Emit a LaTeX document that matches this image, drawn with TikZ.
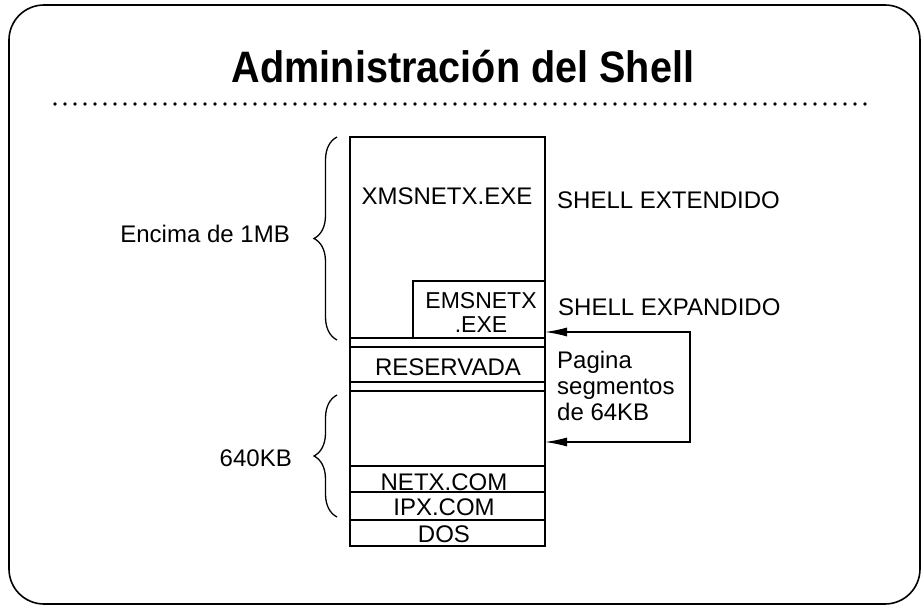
\documentclass[tikz,border=0pt]{standalone}
\usepackage{fontspec}
\setmainfont{Liberation Sans}
\newfontfamily\titlefont{Liberation Sans}[FakeStretch=0.9]
\usetikzlibrary{arrows.meta,decorations.pathreplacing}

\tikzset{
  lbl/.style={inner sep=0pt, font=\fontsize{24}{26}\selectfont},
  memline/.style={line width=1.3pt},
  brc/.style={line width=1.3pt, decorate, decoration={brace, amplitude=23pt, aspect=0.5}},
}

\begin{document}
\begin{tikzpicture}[x=1pt, y=-1pt, >={Latex[length=22pt, width=9pt]}]
	\useasboundingbox (0,0) rectangle (922,607);
	% frame and title
	\draw[line width=1.6pt, rounded corners=35pt] (9,5) rectangle (920,604);
	\node[inner sep=0pt, anchor=base, font=\titlefont\bfseries\fontsize{44}{48}\selectfont] (title) at (463,83) {Administración del Shell};
	\draw[line width=3.8pt, dash pattern=on 0pt off 10pt, line cap=round] (55,104) -- (870,104);
	% memory column
	\draw[memline] (350,137) rectangle (545,546);
	\draw[memline] (413,338) -- (413,281) -- (545,281);
	\foreach \yy in {338,347,382,391,466,492,520}
		\draw[memline] (350,\yy) -- (545,\yy);
	\node[lbl, anchor=base] (xms) at (447,205) {XMSNETX.EXE};
	\node[lbl, anchor=base, font=\fontsize{23}{24}\selectfont] (ems) at (481,308) {EMSNETX};
	\node[lbl, anchor=base, font=\fontsize{23}{24}\selectfont] (emsx) at (481,332) {.EXE};
	\node[lbl, anchor=base] (res) at (448,375) {RESERVADA};
	\node[lbl, anchor=base] (netx) at (444,490) {NETX.COM};
	\node[lbl, anchor=base] (ipx) at (444,515) {IPX.COM};
	\node[lbl, anchor=base] (dos) at (444,542) {DOS};
	% right side
	\node[lbl, anchor=base west] (ext) at (557,209) {SHELL EXTENDIDO};
	\node[lbl, anchor=base west] (exp) at (558,315) {SHELL EXPANDIDO};
	\node[lbl, anchor=north west, align=left] (pag) at (557,351) {Pagina\\segmentos\\de 64KB};
	\coordinate (pgA) at (690,332);
	\coordinate (pgB) at (690,442);
	\coordinate (colA) at (545,332);
	\coordinate (colB) at (545,442);
	\draw[<->, line width=1.3pt] (colA) -- (pgA) -- (pgB) -- (colB);
	% left braces
	\draw[brc] (337,340) -- (337,137);
	\draw[brc] (337,517) -- (337,395);
	\node[lbl, anchor=base east] (enc) at (290,243) {Encima de 1MB};
	\node[lbl, anchor=base east] (kb) at (292,466) {640KB};
\end{tikzpicture}
\end{document}
